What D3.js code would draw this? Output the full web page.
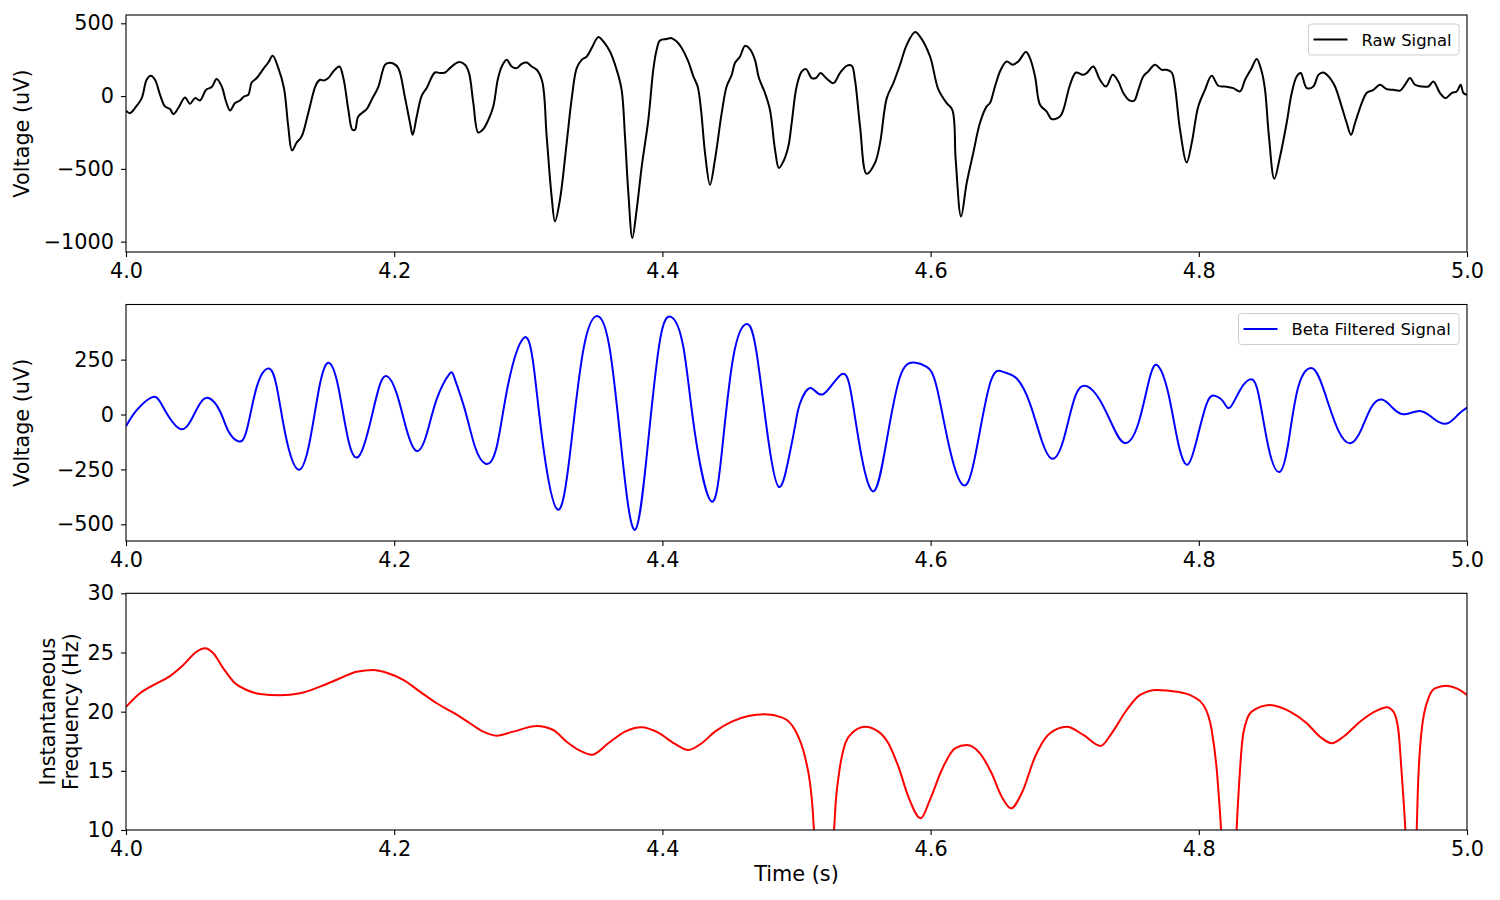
<!DOCTYPE html>
<html><head><meta charset="utf-8">
<script src="https://cdn.jsdelivr.net/npm/d3@7"></script>
<style>body{margin:0;background:#fff} text{font-family:"DejaVu Sans",sans-serif}</style>
</head><body><svg id="c" width="1500" height="900"></svg>
<script>
// ---------- DATA ----------
const rawTime=[4.0000,4.0030,4.0067,4.0117,4.0154,4.0184,4.0216,4.0254,4.0291,4.0328,4.0353,4.0390,4.0440,4.0477,4.0515,4.0552,4.0597,4.0639,4.0676,4.0714,4.0746,4.0776,4.0813,4.0850,4.0880,4.0912,4.0937,4.0975,4.1024,4.1061,4.1094,4.1136,4.1178,4.1210,4.1238,4.1273,4.1310,4.1359,4.1417,4.1447,4.1477,4.1509,4.1546,4.1591,4.1621,4.1658,4.1688,4.1708,4.1732,4.1795,4.1832,4.1881,4.1931,4.1956,4.1993,4.2031,4.2081,4.2118,4.2138,4.2168,4.2205,4.2242,4.2304,4.2342,4.2379,4.2416,4.2478,4.2528,4.2558,4.2590,4.2627,4.2664,4.2702,4.2739,4.2772,4.2802,4.2839,4.2876,4.2914,4.2951,4.2988,4.3025,4.3063,4.3104,4.3137,4.3174,4.3199,4.3236,4.3286,4.3324,4.3361,4.3398,4.3436,4.3473,4.3522,4.3560,4.3609,4.3659,4.3696,4.3721,4.3746,4.3776,4.3808,4.3846,4.3895,4.3932,4.3957,4.3982,4.4032,4.4069,4.4107,4.4144,4.4193,4.4231,4.4263,4.4288,4.4318,4.4355,4.4392,4.4442,4.4479,4.4517,4.4541,4.4579,4.4616,4.4653,4.4690,4.4720,4.4765,4.4802,4.4840,4.4869,4.4902,4.4939,4.4964,4.5001,4.5039,4.5071,4.5113,4.5145,4.5180,4.5220,4.5275,4.5324,4.5374,4.5412,4.5436,4.5474,4.5523,4.5585,4.5623,4.5673,4.5722,4.5772,4.5822,4.5884,4.5921,4.5996,4.6057,4.6120,4.6162,4.6187,4.6227,4.6269,4.6318,4.6368,4.6418,4.6443,4.6480,4.6523,4.6567,4.6612,4.6654,4.6711,4.6741,4.6779,4.6816,4.6866,4.6903,4.6965,4.6990,4.7040,4.7084,4.7134,4.7164,4.7213,4.7263,4.7308,4.7358,4.7400,4.7437,4.7482,4.7519,4.7549,4.7586,4.7623,4.7673,4.7723,4.7760,4.7798,4.7822,4.7860,4.7910,4.7947,4.7996,4.8046,4.8096,4.8146,4.8195,4.8257,4.8307,4.8345,4.8394,4.8432,4.8469,4.8494,4.8523,4.8563,4.8606,4.8655,4.8693,4.8730,4.8760,4.8805,4.8854,4.8892,4.8929,4.8978,4.9016,4.9065,4.9103,4.9135,4.9165,4.9215,4.9252,4.9302,4.9351,4.9401,4.9451,4.9501,4.9538,4.9575,4.9612,4.9662,4.9712,4.9749,4.9799,4.9841,4.9886,4.9923,4.9953,4.9973,5.0000];
const rawVolt=[-100,-117,-82,-14,112,139,112,9,-71,-89,-124,-82,-9,-53,-14,-30,43,62,117,66,-37,-99,-48,-30,-3,9,93,124,187,231,277,192,55,-209,-374,-319,-277,-117,78,112,107,124,169,203,124,-94,-231,-231,-140,-89,-25,62,215,227,224,192,-14,-185,-266,-140,2,55,162,158,162,192,233,215,158,-48,-250,-227,-163,-71,112,203,249,203,192,222,231,203,181,100,-277,-690,-861,-712,-323,-14,192,249,272,330,405,375,306,181,43,-277,-666,-975,-781,-483,-163,181,318,382,392,398,375,330,238,135,66,-94,-391,-609,-437,-117,66,146,227,272,345,323,249,124,21,-94,-369,-494,-449,-346,-185,66,169,185,124,124,158,124,89,158,208,208,112,-209,-534,-460,-323,-14,89,215,352,440,409,272,48,-48,-94,-437,-827,-598,-391,-185,-71,-48,66,181,238,215,238,302,261,135,-60,-106,-158,-140,-94,78,162,146,158,203,112,66,146,100,21,-30,-30,43,135,169,215,181,181,162,66,-231,-456,-323,-71,43,139,71,66,55,32,112,192,254,169,43,-277,-568,-415,-185,21,135,158,55,66,146,162,124,66,-71,-185,-266,-185,-48,21,43,78,48,43,38,78,124,78,66,66,100,21,-14,21,32,78,21,9];

const betaTime=[4.0000,4.0080,4.0192,4.0254,4.0328,4.0410,4.0477,4.0552,4.0621,4.0701,4.0763,4.0837,4.0900,4.0975,4.1061,4.1124,4.1198,4.1290,4.1372,4.1447,4.1514,4.1583,4.1658,4.1732,4.1807,4.1881,4.1944,4.2019,4.2093,4.2168,4.2242,4.2317,4.2411,4.2453,4.2528,4.2603,4.2682,4.2764,4.2851,4.2963,4.3037,4.3112,4.3219,4.3311,4.3410,4.3518,4.3609,4.3696,4.3796,4.3895,4.3982,4.4064,4.4156,4.4243,4.4362,4.4442,4.4529,4.4629,4.4703,4.4790,4.4869,4.4939,4.4989,4.5026,4.5106,4.5200,4.5337,4.5412,4.5486,4.5580,4.5673,4.5772,4.5876,4.5971,4.6045,4.6145,4.6244,4.6331,4.6443,4.6542,4.6642,4.6741,4.6828,4.6907,4.6990,4.7077,4.7164,4.7263,4.7362,4.7450,4.7549,4.7636,4.7698,4.7773,4.7847,4.7917,4.7984,4.8059,4.8121,4.8183,4.8233,4.8307,4.8382,4.8444,4.8519,4.8600,4.8667,4.8742,4.8849,4.8941,4.9040,4.9135,4.9215,4.9289,4.9364,4.9438,4.9525,4.9649,4.9749,4.9849,4.9936,5.0000];
const betaVolt=[-53,20,78,58,-18,-67,-34,50,74,15,-75,-122,-72,126,210,126,-117,-251,-117,141,235,126,-117,-193,-72,111,175,95,-70,-166,-90,70,184,160,20,-148,-224,-148,141,347,233,-148,-433,-178,293,448,293,-163,-525,-117,339,445,308,-87,-394,-178,263,412,278,-117,-330,-208,-53,50,121,93,184,80,-193,-348,-117,172,237,217,126,-163,-322,-193,141,194,164,50,-117,-201,-117,80,129,65,-57,-130,-41,172,220,96,-132,-228,-117,50,85,58,32,111,160,96,-148,-262,-132,126,210,96,-72,-130,-64,35,68,35,1,16,-18,-41,1,32];

const freqTime=[4.0000,4.0104,4.0204,4.0328,4.0427,4.0527,4.0589,4.0651,4.0726,4.0813,4.0900,4.0999,4.1148,4.1298,4.1447,4.1596,4.1720,4.1844,4.1944,4.2068,4.2192,4.2317,4.2441,4.2565,4.2664,4.2764,4.2888,4.3063,4.3186,4.3286,4.3386,4.3473,4.3597,4.3721,4.3846,4.3969,4.4094,4.4193,4.4293,4.4392,4.4517,4.4641,4.4765,4.4890,4.4989,4.5063,4.5101,4.5121,4.5130,4.5205,4.5280,4.5292,4.5317,4.5349,4.5412,4.5511,4.5611,4.5685,4.5760,4.5834,4.5926,4.5995,4.6083,4.6182,4.6269,4.6368,4.6455,4.6530,4.6600,4.6679,4.6779,4.6816,4.6890,4.7015,4.7139,4.7268,4.7350,4.7462,4.7562,4.7686,4.7835,4.7959,4.8034,4.8096,4.8134,4.8153,4.8166,4.8225,4.8282,4.8295,4.8332,4.8394,4.8531,4.8680,4.8805,4.8904,4.8991,4.9078,4.9202,4.9327,4.9401,4.9451,4.9488,4.9513,4.9530,4.9540,4.9582,4.9625,4.9632,4.9662,4.9712,4.9761,4.9843,4.9923,5.0000];
const freqHz=[20.4,21.55,22.25,23.0,23.94,25.07,25.35,24.93,23.66,22.40,21.83,21.49,21.38,21.55,22.11,22.82,23.38,23.52,23.29,22.68,21.69,20.71,19.91,19.02,18.31,17.97,18.31,18.79,18.45,17.46,16.70,16.36,17.33,18.31,18.68,18.22,17.27,16.76,17.33,18.31,19.15,19.63,19.78,19.52,18.45,16.19,13.95,11.69,10.0,-20,10.0,12.25,14.79,16.76,18.17,18.73,18.31,17.33,15.35,12.82,10.99,12.54,15.07,16.90,17.18,16.48,14.79,12.82,11.83,13.10,16.19,17.04,18.17,18.73,18.03,17.10,18.17,20.14,21.41,21.83,21.69,21.26,20.56,18.45,15.07,12.25,10.0,-20,10.0,12.82,18.17,20.0,20.56,20.0,19.02,17.88,17.33,17.88,19.15,20.08,20.37,20.0,18.45,14.79,11.97,10.0,-20,10.0,12.82,18.45,21.13,21.97,22.19,21.97,21.41];

const xTicks=[4.0,4.2,4.4,4.6,4.8,5.0];
const rawTicks=[-1000,-500,0,500];
const betaTicks=[-500,-250,0,250];
const freqTicks=[10,15,20,25,30];
const legendLabels=["Raw Signal","Beta Filtered Signal"];

// ---------- LAYOUT ----------
const svg=d3.select("#c");
const L=126,R=1467;
const FS=20.8, LFS=16.4;
const x=d3.scaleLinear().domain([4,5]).range([L,R]);

const panels=[
 {top:15,bottom:252,domain:[-1071,557],ticks:rawTicks,fmt:d3.format("d"),t:rawTime,v:rawVolt,color:"#000000",curve:d3.curveCatmullRom.alpha(0.5),legend:legendLabels[0],lx:1308.5,lw:150.5},
 {top:304.5,bottom:541,domain:[-576,501],ticks:betaTicks,fmt:d3.format("d"),t:betaTime,v:betaVolt,color:"#0000ff",curve:d3.curveNatural,legend:legendLabels[1],lx:1238.5,lw:220.5},
 {top:593.3,bottom:830,domain:[10,30],ticks:freqTicks,fmt:d3.format("d"),t:freqTime,v:freqHz,color:"#ff0000",curve:d3.curveMonotoneX,legend:null}
];

panels.forEach((p,i)=>{
  const y=d3.scaleLinear().domain(p.domain).range([p.bottom,p.top]);
  const g=svg.append("g");
  const cid="clip"+i;
  svg.append("clipPath").attr("id",cid).append("rect")
    .attr("x",L).attr("y",p.top).attr("width",R-L).attr("height",p.bottom-p.top);

  const data=p.t.map((t,k)=>[t,p.v[k]]);
  g.append("path").datum(data)
    .attr("clip-path","url(#"+cid+")")
    .attr("fill","none").attr("stroke",p.color).attr("stroke-width",2)
    .attr("stroke-linejoin","round")
    .attr("d",d3.line().x(d=>x(d[0])).y(d=>y(d[1])).curve(p.curve));

  const ya=g.append("g").attr("transform",`translate(${L},0)`)
    .call(d3.axisLeft(y).tickValues(p.ticks).tickFormat(p.fmt).tickSize(5).tickPadding(7));
  const xa=g.append("g").attr("transform",`translate(0,${p.bottom})`)
    .call(d3.axisBottom(x).tickValues(xTicks).tickFormat(d3.format(".1f")).tickSize(5).tickPadding(6));
  [ya,xa].forEach(a=>{
    a.select(".domain").remove();
    a.selectAll("line").attr("stroke","#000").attr("stroke-width",1.1);
    a.selectAll("text").attr("font-size",FS).attr("fill","#000").attr("font-family","DejaVu Sans");
  });

  g.append("rect").attr("x",L).attr("y",p.top).attr("width",R-L).attr("height",p.bottom-p.top)
    .attr("fill","none").attr("stroke","#000").attr("stroke-width",1.1);

  if(p.legend){
    const ly=p.top+9;
    const lg=g.append("g");
    lg.append("rect").attr("x",p.lx).attr("y",ly).attr("width",p.lw).attr("height",31)
      .attr("rx",3).attr("fill","#fff").attr("fill-opacity",0.8).attr("stroke","#cccccc").attr("stroke-width",1);
    lg.append("line").attr("x1",p.lx+5).attr("x2",p.lx+39).attr("y1",ly+15.5).attr("y2",ly+15.5)
      .attr("stroke",p.color).attr("stroke-width",2);
    lg.append("text").attr("x",p.lx+53).attr("y",ly+21.5).attr("font-size",LFS).attr("fill","#000").text(p.legend);
  }
});

const cy1=(15+252)/2, cy2=(304.5+541)/2, cy3=(593.3+830)/2;
svg.append("text").attr("transform",`translate(29,${cy1}) rotate(-90)`).attr("text-anchor","middle").attr("font-size",FS).text("Voltage (uV)");
svg.append("text").attr("transform",`translate(29,${cy2}) rotate(-90)`).attr("text-anchor","middle").attr("font-size",FS).text("Voltage (uV)");
svg.append("text").attr("transform",`translate(55,${cy3}) rotate(-90)`).attr("text-anchor","middle").attr("font-size",FS).text("Instantaneous");
svg.append("text").attr("transform",`translate(78,${cy3}) rotate(-90)`).attr("text-anchor","middle").attr("font-size",FS).text("Frequency (Hz)");
svg.append("text").attr("x",(L+R)/2).attr("y",881).attr("text-anchor","middle").attr("font-size",FS).text("Time (s)");
</script></body></html>
